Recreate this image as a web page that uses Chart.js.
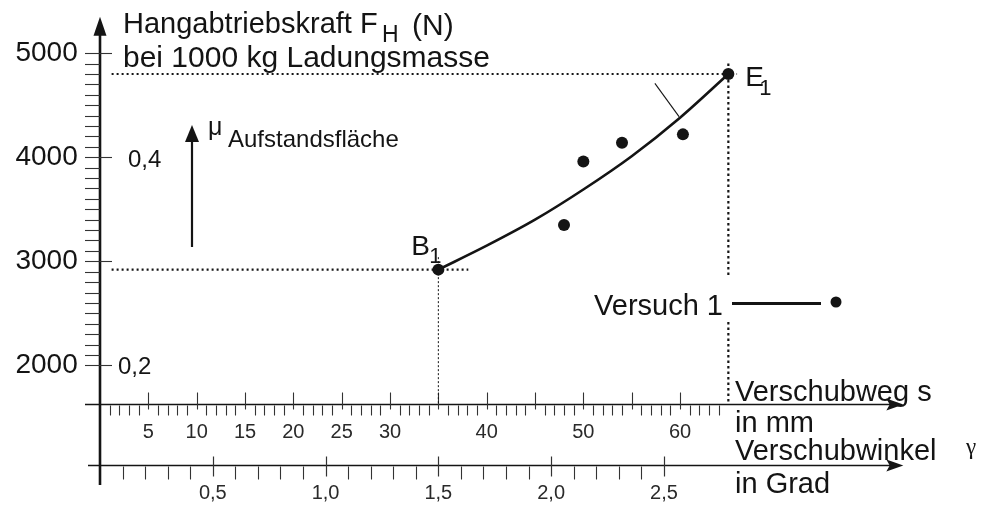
<!DOCTYPE html>
<html lang="de">
<head>
<meta charset="utf-8">
<title>Hangabtriebskraft über Verschubweg</title>
<script src="https://cdn.jsdelivr.net/npm/chart.js@4.4.1/dist/chart.umd.min.js"></script>
<style>
  html, body { margin: 0; padding: 0; background: #fff; }
  #wrap { width: 981px; height: 507px; }
</style>
</head>
<body>
<div id="wrap"><canvas id="diagramm" width="981" height="507"></canvas></div>
<script>
// Versuch 1: Messpunkte (Verschubweg in mm, Hangabtriebskraft in N)
// erster Punkt = B1, letzter Punkt = E1
var messWeg = [35, 48, 50, 54, 60.3, 65];
var messKraft = [2920, 3350, 3960, 4140, 4220, 4800];

// Ausgleichskurve von B1 nach E1
var kurveWeg = [35, 40, 45, 50, 55, 60, 65];
var kurveKraft = [2920, 3150, 3400, 3690, 4010, 4380, 4800];

// kurzer Hinweisstrich an der Kurve
var hinweisWeg = [57.4, 59.9];
var hinweisKraft = [4710, 4390];

// Achsbeschriftungen
var kraftTicks = [2000, 3000, 4000, 5000];
var wegTicks = [5, 10, 15, 20, 25, 30, 40, 50, 60];
var winkelTicks = [0.5, 1.0, 1.5, 2.0, 2.5];
var muText = ['0,4', '0,2'];
var muKraft = [4000, 2000];

// Wertebereiche und Lage der beiden waagrechten Achsen
var WEG_MAX = 84;
var WEG_PFEIL = 83.1;
var KRAFT_MIN = 800, KRAFT_MAX = 5350;
var KRAFT_UNTEN = 850;
var ACHSE_WEG = 1628;
var ACHSE_WINKEL = 1040;
var MM_PRO_GRAD = 35 / 1.5;

var SCHRIFT = '"Liberation Sans", Arial, Helvetica, sans-serif';
var FARBE = '#141414';

var iB = 0, iE = messWeg.length - 1;

function punkte(xs, ys) {
    return xs.map(function (v, i) { return { x: v, y: ys[i] }; });
}

function linie(ctx, x1, y1, x2, y2, w) {
    ctx.lineWidth = w;
    ctx.beginPath();
    ctx.moveTo(x1, y1);
    ctx.lineTo(x2, y2);
    ctx.stroke();
}

function pfeilRechts(ctx, x, y, len, half) {
    ctx.beginPath();
    ctx.moveTo(x, y);
    ctx.lineTo(x - len, y - half);
    ctx.lineTo(x - len * 0.8, y);
    ctx.lineTo(x - len, y + half);
    ctx.closePath();
    ctx.fill();
}

function pfeilOben(ctx, x, y, len, half) {
    ctx.beginPath();
    ctx.moveTo(x, y);
    ctx.lineTo(x - half, y + len);
    ctx.lineTo(x + half, y + len);
    ctx.closePath();
    ctx.fill();
}

function schrift(ctx, s, x, y, size, align, family) {
    ctx.font = size + 'px ' + (family || SCHRIFT);
    ctx.textAlign = align || 'left';
    ctx.textBaseline = 'alphabetic';
    ctx.fillText(s, x, y);
}

var zeichnung = {
    id: 'zeichnung',
    beforeDatasetsDraw: function (chart) {
        var ctx = chart.ctx;
        var sx = chart.scales.x, sw = chart.scales.x2, sy = chart.scales.y;
        var x0 = sx.getPixelForValue(0);
        ctx.save();
        ctx.strokeStyle = FARBE;
        ctx.fillStyle = FARBE;
        ctx.lineCap = 'butt';

        // senkrechte Kraftachse mit Pfeil
        var yTop = sy.getPixelForValue(KRAFT_MAX);
        linie(ctx, x0, sy.getPixelForValue(KRAFT_UNTEN), x0, yTop + 16, 2.6);
        pfeilOben(ctx, x0, yTop, 19, 6.5);

        ctx.strokeStyle = '#333';
        for (var v = 2000; v <= 5000; v += 100) {
            var py = Math.round(sy.getPixelForValue(v)) + 0.5;
            linie(ctx, x0 - 15, py, v % 1000 === 0 ? x0 + 12 : x0, py, 1.1);
        }

        // Achse Verschubweg s
        ctx.strokeStyle = FARBE;
        var ay = Math.round(sy.getPixelForValue(ACHSE_WEG)) + 0.5;
        var xEnd = sx.getPixelForValue(WEG_PFEIL);
        linie(ctx, x0 - 15, ay, xEnd - 8, ay, 1.5);
        pfeilRechts(ctx, xEnd, ay, 17, 6);
        ctx.strokeStyle = '#333';
        for (var mm = 1; mm < 65; mm++) {
            var px = Math.round(sx.getPixelForValue(mm)) + 0.5;
            if (mm % 5 === 0) linie(ctx, px, ay - 12, px, ay + 5, 1.1);
            else linie(ctx, px, ay + 1, px, ay + 11, 1.1);
        }

        // Achse Verschubwinkel
        ctx.strokeStyle = FARBE;
        var by = Math.round(sy.getPixelForValue(ACHSE_WINKEL)) + 0.5;
        linie(ctx, x0 - 12, by, xEnd - 8, by, 1.5);
        pfeilRechts(ctx, xEnd, by, 17, 6);
        ctx.strokeStyle = '#333';
        for (var k = 1; k <= 25; k++) {
            var gx = Math.round(sw.getPixelForValue(k / 10)) + 0.5;
            if (k % 5 === 0) linie(ctx, gx, by - 9, gx, by + 11, 1.2);
            else linie(ctx, gx, by + 1, gx, by + 14, 1.1);
        }
        ctx.restore();
    },
    afterDraw: function (chart) {
        var ctx = chart.ctx;
        var sx = chart.scales.x, sy = chart.scales.y;
        ctx.save();
        ctx.fillStyle = FARBE;
        ctx.strokeStyle = FARBE;

        // Titel der Kraftachse
        schrift(ctx, 'Hangabtriebskraft F', 123, 33, 29);
        schrift(ctx, 'H', 382, 42, 23);
        schrift(ctx, '(N)', 412, 35, 30);
        schrift(ctx, 'bei 1000 kg Ladungsmasse', 123, 67, 30);

        // Reibwert an der Aufstandsfläche
        linie(ctx, 192, 247, 192, 138, 2.2);
        pfeilOben(ctx, 192, 125, 17, 7);
        schrift(ctx, 'μ', 208, 135, 25);
        schrift(ctx, 'Aufstandsfläche', 228, 147, 24);
        schrift(ctx, muText[0], 128, sy.getPixelForValue(muKraft[0]) + 10, 24);
        schrift(ctx, muText[1], 118, sy.getPixelForValue(muKraft[1]) + 9, 24);

        // Beginn und Ende
        var bx = sx.getPixelForValue(messWeg[iB]), byy = sy.getPixelForValue(messKraft[iB]);
        schrift(ctx, 'B', bx - 27, byy - 15, 28);
        schrift(ctx, '1', bx - 9, byy - 7, 22);
        var ex = sx.getPixelForValue(messWeg[iE]), ey = sy.getPixelForValue(messKraft[iE]);
        schrift(ctx, 'E', ex + 17, ey + 12, 28);
        schrift(ctx, '1', ex + 31, ey + 21, 22);

        // Achstitel rechts
        schrift(ctx, 'Verschubweg s', 735, 401, 29);
        schrift(ctx, 'in mm', 735, 432, 29);
        schrift(ctx, 'Verschubwinkel', 735, 460, 29);
        schrift(ctx, 'γ', 966, 454, 23, 'left', '"Liberation Serif", "DejaVu Serif", serif');
        schrift(ctx, 'in Grad', 735, 493, 29);

        // Legende
        ctx.fillStyle = '#fff';
        ctx.fillRect(588, 278, 260, 43);
        ctx.fillStyle = FARBE;
        schrift(ctx, 'Versuch 1', 723, 315, 29, 'right');
        linie(ctx, 732, 303.5, 821, 303.5, 3.2);
        ctx.beginPath();
        ctx.arc(836, 302, 5.5, 0, Math.PI * 2);
        ctx.fill();
        ctx.restore();
    }
};

var punktiert = {
    showLine: true, pointRadius: 0, borderColor: FARBE, borderWidth: 2.2,
    borderDash: [2, 3], borderCapStyle: 'butt', tension: 0
};

function hilfslinie(data, extra) {
    return Object.assign({}, punktiert, { data: data }, extra || {});
}

var bW = messWeg[iB], bK = messKraft[iB], eW = messWeg[iE], eK = messKraft[iE];

new Chart(document.getElementById('diagramm'), {
    type: 'scatter',
    data: {
        datasets: [
            {
                label: 'Versuch 1',
                data: punkte(messWeg, messKraft),
                pointRadius: 6,
                pointBackgroundColor: FARBE,
                pointBorderWidth: 0,
                showLine: false
            },
            {
                label: 'Kurve',
                data: punkte(kurveWeg, kurveKraft),
                showLine: true,
                pointRadius: 0,
                borderColor: FARBE,
                borderWidth: 2.6,
                cubicInterpolationMode: 'monotone'
            },
            {
                label: 'Hinweis',
                data: punkte(hinweisWeg, hinweisKraft),
                showLine: true,
                pointRadius: 0,
                borderColor: FARBE,
                borderWidth: 1.1
            },
            hilfslinie([{ x: 1.2, y: eK }, { x: eW + 0.9, y: eK }]),
            hilfslinie([{ x: eW, y: eK + 100 }, { x: eW, y: ACHSE_WEG }], { borderDash: [2.5, 3] }),
            hilfslinie([{ x: 1.2, y: bK }, { x: bW + 3.1, y: bK }]),
            hilfslinie([{ x: bW, y: bK + 120 }, { x: bW, y: ACHSE_WEG }], { borderWidth: 1, borderDash: [2, 2] })
        ]
    },
    options: {
        responsive: false,
        animation: false,
        devicePixelRatio: 1,
        layout: { padding: { left: 100, right: 981 - 100 - WEG_MAX * 9.667, top: 12, bottom: 12.5 } },
        plugins: { legend: { display: false }, tooltip: { enabled: false } },
        scales: {
            x: {
                type: 'linear',
                min: 0,
                max: WEG_MAX,
                position: { y: ACHSE_WEG },
                grid: { display: false, drawTicks: false },
                border: { display: false },
                afterFit: function (s) { s.height = 0; },
                afterBuildTicks: function (s) { s.ticks = wegTicks.map(function (v) { return { value: v }; }); },
                ticks: {
                    autoSkip: false, maxRotation: 0, padding: 16, color: '#2a2a2a',
                    font: { family: SCHRIFT, size: 20 },
                    callback: function (v) { return String(v); }
                }
            },
            x2: {
                type: 'linear',
                axis: 'x',
                min: 0,
                max: WEG_MAX / MM_PRO_GRAD,
                position: { y: ACHSE_WINKEL },
                grid: { display: false, drawTicks: false },
                border: { display: false },
                afterFit: function (s) { s.height = 0; },
                afterBuildTicks: function (s) { s.ticks = winkelTicks.map(function (v) { return { value: v }; }); },
                ticks: {
                    autoSkip: false, maxRotation: 0, padding: 16, color: '#2a2a2a',
                    font: { family: SCHRIFT, size: 20 },
                    callback: function (v) { return v.toFixed(1).replace('.', ','); }
                }
            },
            y: {
                type: 'linear',
                min: KRAFT_MIN,
                max: KRAFT_MAX,
                position: { x: -2.3 },
                grid: { display: false, drawTicks: false },
                border: { display: false },
                afterFit: function (s) { s.width = 0; },
                afterBuildTicks: function (s) { s.ticks = kraftTicks.map(function (v) { return { value: v }; }); },
                ticks: {
                    autoSkip: false, padding: 0, color: FARBE,
                    font: { family: SCHRIFT, size: 28 },
                    callback: function (v) { return String(v); }
                }
            }
        }
    },
    plugins: [zeichnung]
});
</script>
</body>
</html>
